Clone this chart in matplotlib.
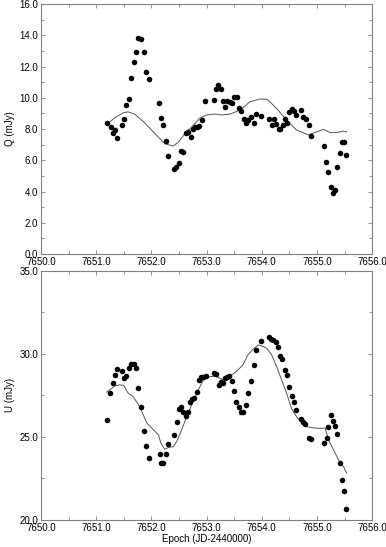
import numpy as np
import matplotlib
matplotlib.use("Agg")
import matplotlib.pyplot as plt
from matplotlib.ticker import MultipleLocator, FormatStrFormatter

# ── Data: Q points ──────────────────────────────────────────────────────────
q_t = [7651.19, 7651.27, 7651.31, 7651.35, 7651.38, 7651.46, 7651.50, 7651.54,
       7651.59, 7651.63, 7651.69, 7651.73, 7651.76, 7651.82, 7651.86, 7651.90,
       7651.95, 7652.14, 7652.18, 7652.22, 7652.26, 7652.30, 7652.41, 7652.45,
       7652.50, 7652.53, 7652.58, 7652.63, 7652.67, 7652.72, 7652.76, 7652.79,
       7652.82, 7652.86, 7652.91, 7652.98, 7653.14, 7653.18, 7653.21, 7653.26,
       7653.30, 7653.34, 7653.38, 7653.43, 7653.47, 7653.50, 7653.55, 7653.58,
       7653.63, 7653.68, 7653.72, 7653.76, 7653.81, 7653.86, 7653.90, 7653.98,
       7654.14, 7654.18, 7654.22, 7654.26, 7654.31, 7654.34, 7654.38, 7654.42,
       7654.46, 7654.50, 7654.54, 7654.58, 7654.62, 7654.71, 7654.75, 7654.80,
       7654.85, 7654.90, 7655.13, 7655.17, 7655.21, 7655.25, 7655.29, 7655.32,
       7655.37, 7655.41, 7655.45, 7655.49, 7655.53]
q_v = [8.36, 8.13, 7.77, 7.92, 7.40, 8.26, 8.64, 9.54,
       9.90, 11.26, 12.31, 12.93, 13.80, 13.74, 12.93, 11.67,
       11.20, 9.66, 8.70, 8.24, 7.25, 6.29, 5.42, 5.55,
       5.84, 6.57, 6.50, 7.72, 7.83, 7.50, 7.98, 8.10,
       8.15, 8.20, 8.58, 9.77, 9.88, 10.54, 10.80, 10.54,
       9.79, 9.43, 9.79, 9.75, 9.69, 10.03, 10.03, 9.32,
       9.13, 8.66, 8.40, 8.58, 8.79, 8.38, 8.94, 8.83,
       8.62, 8.28, 8.62, 8.32, 7.98, 7.98, 8.28, 8.62,
       8.40, 9.07, 9.26, 9.15, 8.90, 9.22, 8.79, 8.62,
       8.26, 7.53, 6.91, 5.87, 5.23, 4.29, 3.88, 4.08,
       5.59, 6.45, 7.19, 7.19, 6.34]

# ── Data: Q model curve ─────────────────────────────────────────────────────
qm_t = [7651.19, 7651.35, 7651.50, 7651.58, 7651.70, 7651.85, 7652.00, 7652.15,
        7652.25, 7652.40, 7652.50, 7652.63, 7652.75, 7652.88, 7653.00, 7653.15,
        7653.27, 7653.43, 7653.61, 7653.79, 7653.97, 7654.10, 7654.27, 7654.45,
        7654.63, 7654.85, 7655.00, 7655.12, 7655.24, 7655.36, 7655.48, 7655.54]
qm_v = [8.30, 8.75, 9.05, 9.10, 8.95, 8.50, 7.95, 7.40,
        7.05, 6.91, 7.20, 7.80, 8.20, 8.70, 8.90, 8.96,
        8.90, 8.96, 9.22, 9.75, 9.92, 9.90, 9.32, 8.58,
        7.94, 7.62, 7.83, 7.98, 7.77, 7.77, 7.87, 7.81]

# ── Data: U points ──────────────────────────────────────────────────────────
u_t = [7651.19, 7651.26, 7651.31, 7651.34, 7651.38, 7651.46, 7651.50, 7651.54,
       7651.59, 7651.63, 7651.68, 7651.73, 7651.76, 7651.81, 7651.86, 7651.90,
       7651.95, 7652.15, 7652.18, 7652.22, 7652.26, 7652.30, 7652.41, 7652.46,
       7652.50, 7652.54, 7652.58, 7652.62, 7652.66, 7652.70, 7652.74, 7652.78,
       7652.82, 7652.86, 7652.90, 7652.94, 7652.99, 7653.14, 7653.18, 7653.22,
       7653.26, 7653.30, 7653.34, 7653.38, 7653.41, 7653.46, 7653.50, 7653.54,
       7653.58, 7653.63, 7653.67, 7653.72, 7653.76, 7653.81, 7653.86, 7653.90,
       7653.98, 7654.14, 7654.17, 7654.21, 7654.26, 7654.30, 7654.34, 7654.37,
       7654.42, 7654.46, 7654.49, 7654.54, 7654.58, 7654.62, 7654.71, 7654.75,
       7654.79, 7654.85, 7654.89, 7655.13, 7655.18, 7655.21, 7655.25, 7655.30,
       7655.33, 7655.37, 7655.42, 7655.46, 7655.49, 7655.53]
u_v = [26.02, 27.62, 28.23, 28.75, 29.10, 28.95, 28.55, 28.67,
       29.17, 29.37, 29.41, 29.15, 27.95, 26.82, 25.36, 24.46,
       23.74, 23.96, 23.42, 23.42, 23.98, 24.58, 25.10, 25.88,
       26.66, 26.82, 26.50, 26.28, 26.50, 27.12, 27.26, 27.32,
       27.67, 28.43, 28.59, 28.63, 28.69, 28.87, 28.79, 28.15,
       28.29, 28.27, 28.53, 28.63, 28.69, 28.37, 27.75, 27.12,
       26.82, 26.52, 26.50, 26.90, 27.63, 28.37, 29.33, 30.23,
       30.79, 30.99, 30.91, 30.81, 30.71, 30.39, 29.87, 29.67,
       29.03, 28.73, 27.99, 27.46, 27.08, 26.62, 26.06, 25.88,
       25.76, 24.96, 24.90, 24.62, 24.92, 25.62, 26.32, 25.98,
       25.66, 25.18, 23.40, 22.42, 21.73, 20.67]

# ── Data: U model curve ─────────────────────────────────────────────────────
um_t = [7651.19, 7651.34, 7651.43, 7651.50, 7651.58, 7651.67, 7651.79, 7651.92,
        7652.04, 7652.13, 7652.17, 7652.24, 7652.31, 7652.40, 7652.46, 7652.55,
        7652.64, 7652.73, 7652.82, 7652.94, 7653.06, 7653.18, 7653.30, 7653.42,
        7653.54, 7653.66, 7653.75, 7653.84, 7653.94, 7654.00, 7654.09, 7654.18,
        7654.27, 7654.36, 7654.45, 7654.54, 7654.63, 7654.72, 7654.81, 7654.90,
        7655.00, 7655.09, 7655.15, 7655.21, 7655.30, 7655.39, 7655.48, 7655.54]
um_v = [27.69, 28.07, 28.13, 28.10, 27.63, 27.43, 26.82, 25.82,
        25.42, 25.12, 24.66, 24.26, 24.36, 24.42, 24.72, 25.42,
        26.22, 26.92, 27.62, 28.40, 28.63, 28.63, 28.43, 28.63,
        28.93, 29.33, 29.93, 30.27, 30.53, 30.47, 30.33, 29.93,
        29.23, 28.43, 27.63, 26.72, 26.22, 25.86, 25.62, 25.56,
        25.52, 25.52, 25.52, 24.82, 24.22, 23.62, 23.22, 22.82]

# ── Style ───────────────────────────────────────────────────────────────────
plt.rcParams["font.family"] = ["Liberation Sans", "DejaVu Sans"]
FS = 7
SPINE = "#808080"

fig = plt.figure(figsize=(3.86, 5.47), dpi=100)
ax1 = fig.add_axes([0.106, 0.5356, 0.858, 0.457])
ax2 = fig.add_axes([0.106, 0.0494, 0.858, 0.4558])


def style(ax, ymaj, ymin, ylim):
    ax.set_xlim(7650, 7656)
    ax.set_ylim(*ylim)
    ax.xaxis.set_major_locator(MultipleLocator(1.0))
    ax.xaxis.set_minor_locator(MultipleLocator(0.5))
    ax.yaxis.set_major_locator(MultipleLocator(ymaj))
    ax.yaxis.set_minor_locator(MultipleLocator(ymin))
    ax.xaxis.set_major_formatter(FormatStrFormatter("%.1f"))
    ax.yaxis.set_major_formatter(FormatStrFormatter("%.1f"))
    ax.tick_params(which="both", direction="in", top=True, right=True,
                   color=SPINE, labelsize=FS, width=0.6)
    ax.tick_params(which="major", length=3, pad=2)
    ax.tick_params(which="minor", length=2)
    for s in ax.spines.values():
        s.set_color(SPINE)
        s.set_linewidth(0.8)


ax1.plot(qm_t, qm_v, color="#555555", linewidth=0.7)
ax1.plot(q_t, q_v, "o", color="black", markersize=4, markeredgewidth=0)
style(ax1, 2.0, 1.0, (0, 16))
ax1.set_ylabel("Q (mJy)", fontsize=FS, labelpad=3)

ax2.plot(um_t, um_v, color="#555555", linewidth=0.7)
ax2.plot(u_t, u_v, "o", color="black", markersize=4, markeredgewidth=0)
style(ax2, 5.0, 2.5, (20, 35))
ax2.set_ylabel("U (mJy)", fontsize=FS, labelpad=3)
ax2.set_xlabel("Epoch (JD-2440000)", fontsize=FS, labelpad=1)

plt.savefig("out.png", dpi=100)
